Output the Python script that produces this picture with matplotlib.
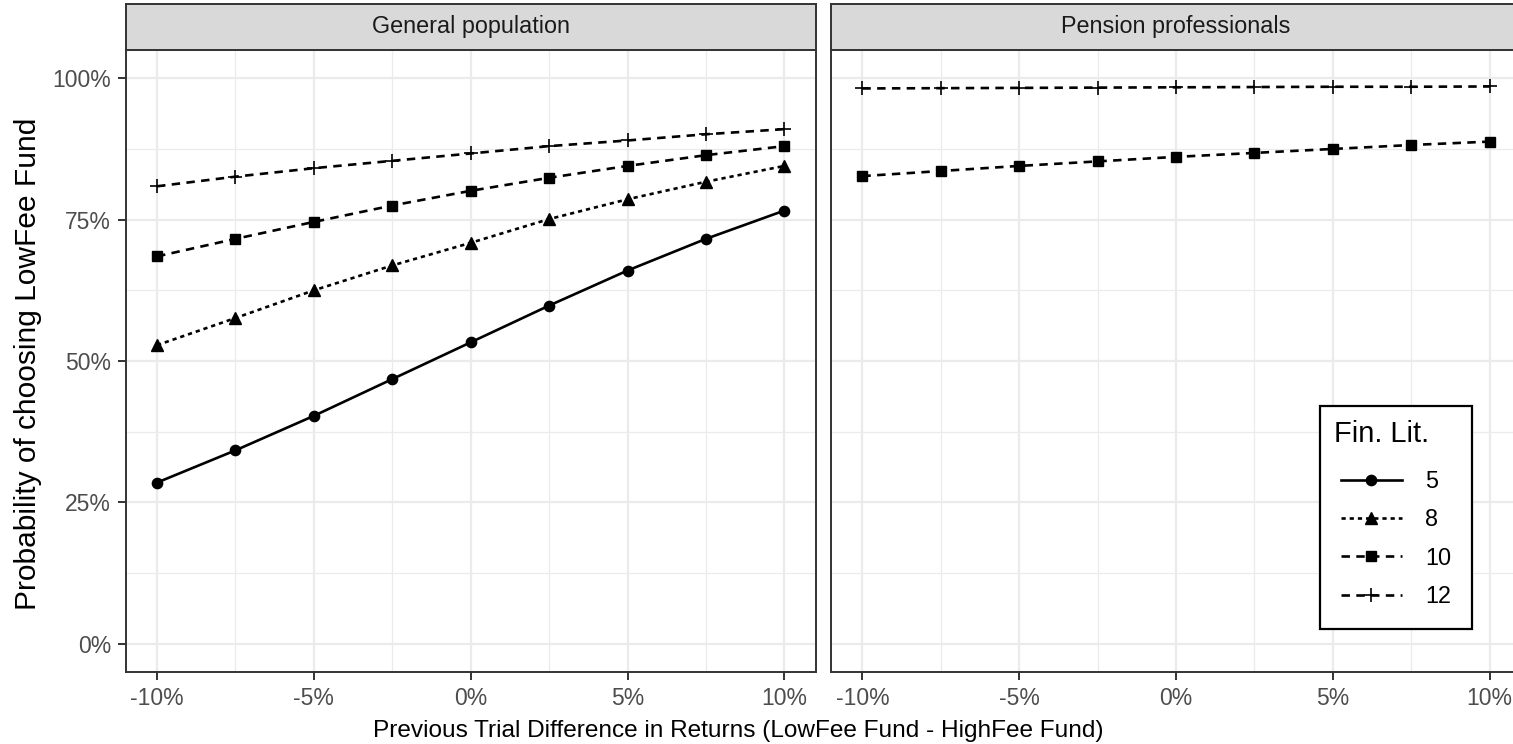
import numpy as np
import matplotlib
matplotlib.use("Agg")
import matplotlib.pyplot as plt
from matplotlib.ticker import FixedLocator, FuncFormatter

plt.rcParams['font.family'] = ['Liberation Sans', 'DejaVu Sans']

# previous-trial return difference (LowFee - HighFee)
diff = [-0.10, -0.075, -0.05, -0.025, 0.0, 0.025, 0.05, 0.075, 0.10]

# predicted probability of choosing the LowFee fund, by financial literacy
general_5 = [0.285, 0.342, 0.403, 0.468, 0.533, 0.598, 0.660, 0.716, 0.766]
general_8 = [0.528, 0.576, 0.625, 0.669, 0.709, 0.751, 0.786, 0.817, 0.845]
general_10 = [0.685, 0.716, 0.746, 0.775, 0.801, 0.824, 0.845, 0.864, 0.880]
general_12 = [0.809, 0.826, 0.841, 0.854, 0.867, 0.880, 0.890, 0.901, 0.910]

pension_10 = [0.827, 0.836, 0.845, 0.853, 0.861, 0.868, 0.875, 0.882, 0.888]
pension_12 = [0.982, 0.9825, 0.983, 0.9835, 0.984, 0.9845, 0.985, 0.985, 0.9855]

panels = ["General population", "Pension professionals"]
fin_lit = ['5', '8', '10', '12']

W, H = 1513, 744
fig = plt.figure(figsize=(W / 100, H / 100), dpi=100)

border = '#333333'
grid_c = '#EBEBEB'


def px_axes(x0, y0, x1, y1):
    return fig.add_axes([x0 / W, 1 - y1 / H, (x1 - x0) / W, (y1 - y0) / H])


styles = {
    '5': dict(ls='-', marker='o', ms=7.4),
    '8': dict(ls=(0, (1.6, 1.5)), marker='^', ms=8.5),
    '10': dict(ls=(0, (3.2, 2.4)), marker='s', ms=7),
    '12': dict(ls=(0, (3.2, 2.4)), marker='+', ms=10.5, mew=1.2),
}

ax1 = px_axes(125.7, 50, 815.7, 672)
ax2 = px_axes(831, 50, 1521, 672)

series = [
    (ax1, [('5', general_5), ('8', general_8), ('10', general_10), ('12', general_12)]),
    (ax2, [('10', pension_10), ('12', pension_12)]),
]

handles = {}
for ax, lines in series:
    for key, vals in lines:
        st = styles[key]
        h, = ax.plot(diff, vals, color='black', lw=1.9, ls=st['ls'], marker=st['marker'],
                     ms=st['ms'], mew=st.get('mew', 1), label=key, zorder=3)
        handles[key] = h

pct = FuncFormatter(lambda v, p: f"{v * 100:.0f}%")
for i, ax in enumerate([ax1, ax2]):
    ax.set_xlim(-0.11, 0.11)
    ax.set_ylim(-0.05, 1.05)
    ax.xaxis.set_major_locator(FixedLocator([-0.10, -0.05, 0, 0.05, 0.10]))
    ax.xaxis.set_minor_locator(FixedLocator([-0.075, -0.025, 0.025, 0.075]))
    ax.yaxis.set_major_locator(FixedLocator([0, 0.25, 0.5, 0.75, 1.0]))
    ax.yaxis.set_minor_locator(FixedLocator([0.125, 0.375, 0.625, 0.875]))
    ax.xaxis.set_major_formatter(pct)
    ax.yaxis.set_major_formatter(pct)
    ax.grid(which='major', color=grid_c, lw=1.6, zorder=0)
    ax.grid(which='minor', color=grid_c, lw=0.9, zorder=0)
    ax.set_axisbelow(True)
    for s in ax.spines.values():
        s.set_color(border)
        s.set_linewidth(1.4)
    ax.tick_params(which='major', length=5.5, width=1.4, color=border,
                   labelsize=16.5, labelcolor='#4D4D4D', pad=5)
    ax.tick_params(which='minor', length=0)
    if i == 1:
        ax.tick_params(axis='y', which='both', left=False, labelleft=False)

    # facet strip
    x0 = 125.7 if i == 0 else 831
    x1 = 815.7 if i == 0 else 1521
    sax = px_axes(x0, 4, x1, 50)
    sax.set_facecolor('#D9D9D9')
    sax.set_xticks([])
    sax.set_yticks([])
    for s in sax.spines.values():
        s.set_color(border)
        s.set_linewidth(1.4)
    sax.text(0.5, 0.5, panels[i], ha='center', va='center', fontsize=16.8,
             color='#1A1A1A', transform=sax.transAxes)

fig.text(28.5 / W, 1 - 364 / H, "Probability of choosing LowFee Fund", rotation=90,
         ha='center', va='center', fontsize=21.5)
fig.text(738 / W, 1 - 737 / H,
         "Previous Trial Difference in Returns (LowFee Fund - HighFee Fund)",
         ha='center', va='baseline', fontsize=17.6)

leg = ax2.legend([handles[k] for k in fin_lit], fin_lit,
                 title="Fin. Lit.", loc='lower right',
                 bbox_to_anchor=(1472 / W, 1 - 629 / H), bbox_transform=fig.transFigure,
                 borderaxespad=0,
                 fontsize=16.8, title_fontsize=20.9, frameon=True, fancybox=False,
                 edgecolor='black', framealpha=1, handlelength=2.6, handletextpad=1.0,
                 labelspacing=0.66, borderpad=0.6, alignment='left', numpoints=1)
leg.get_frame().set_linewidth(1.6)
# indent the key entries below the title
leg._legend_handle_box.pad = 5

fig.savefig('out.png', dpi=100)
